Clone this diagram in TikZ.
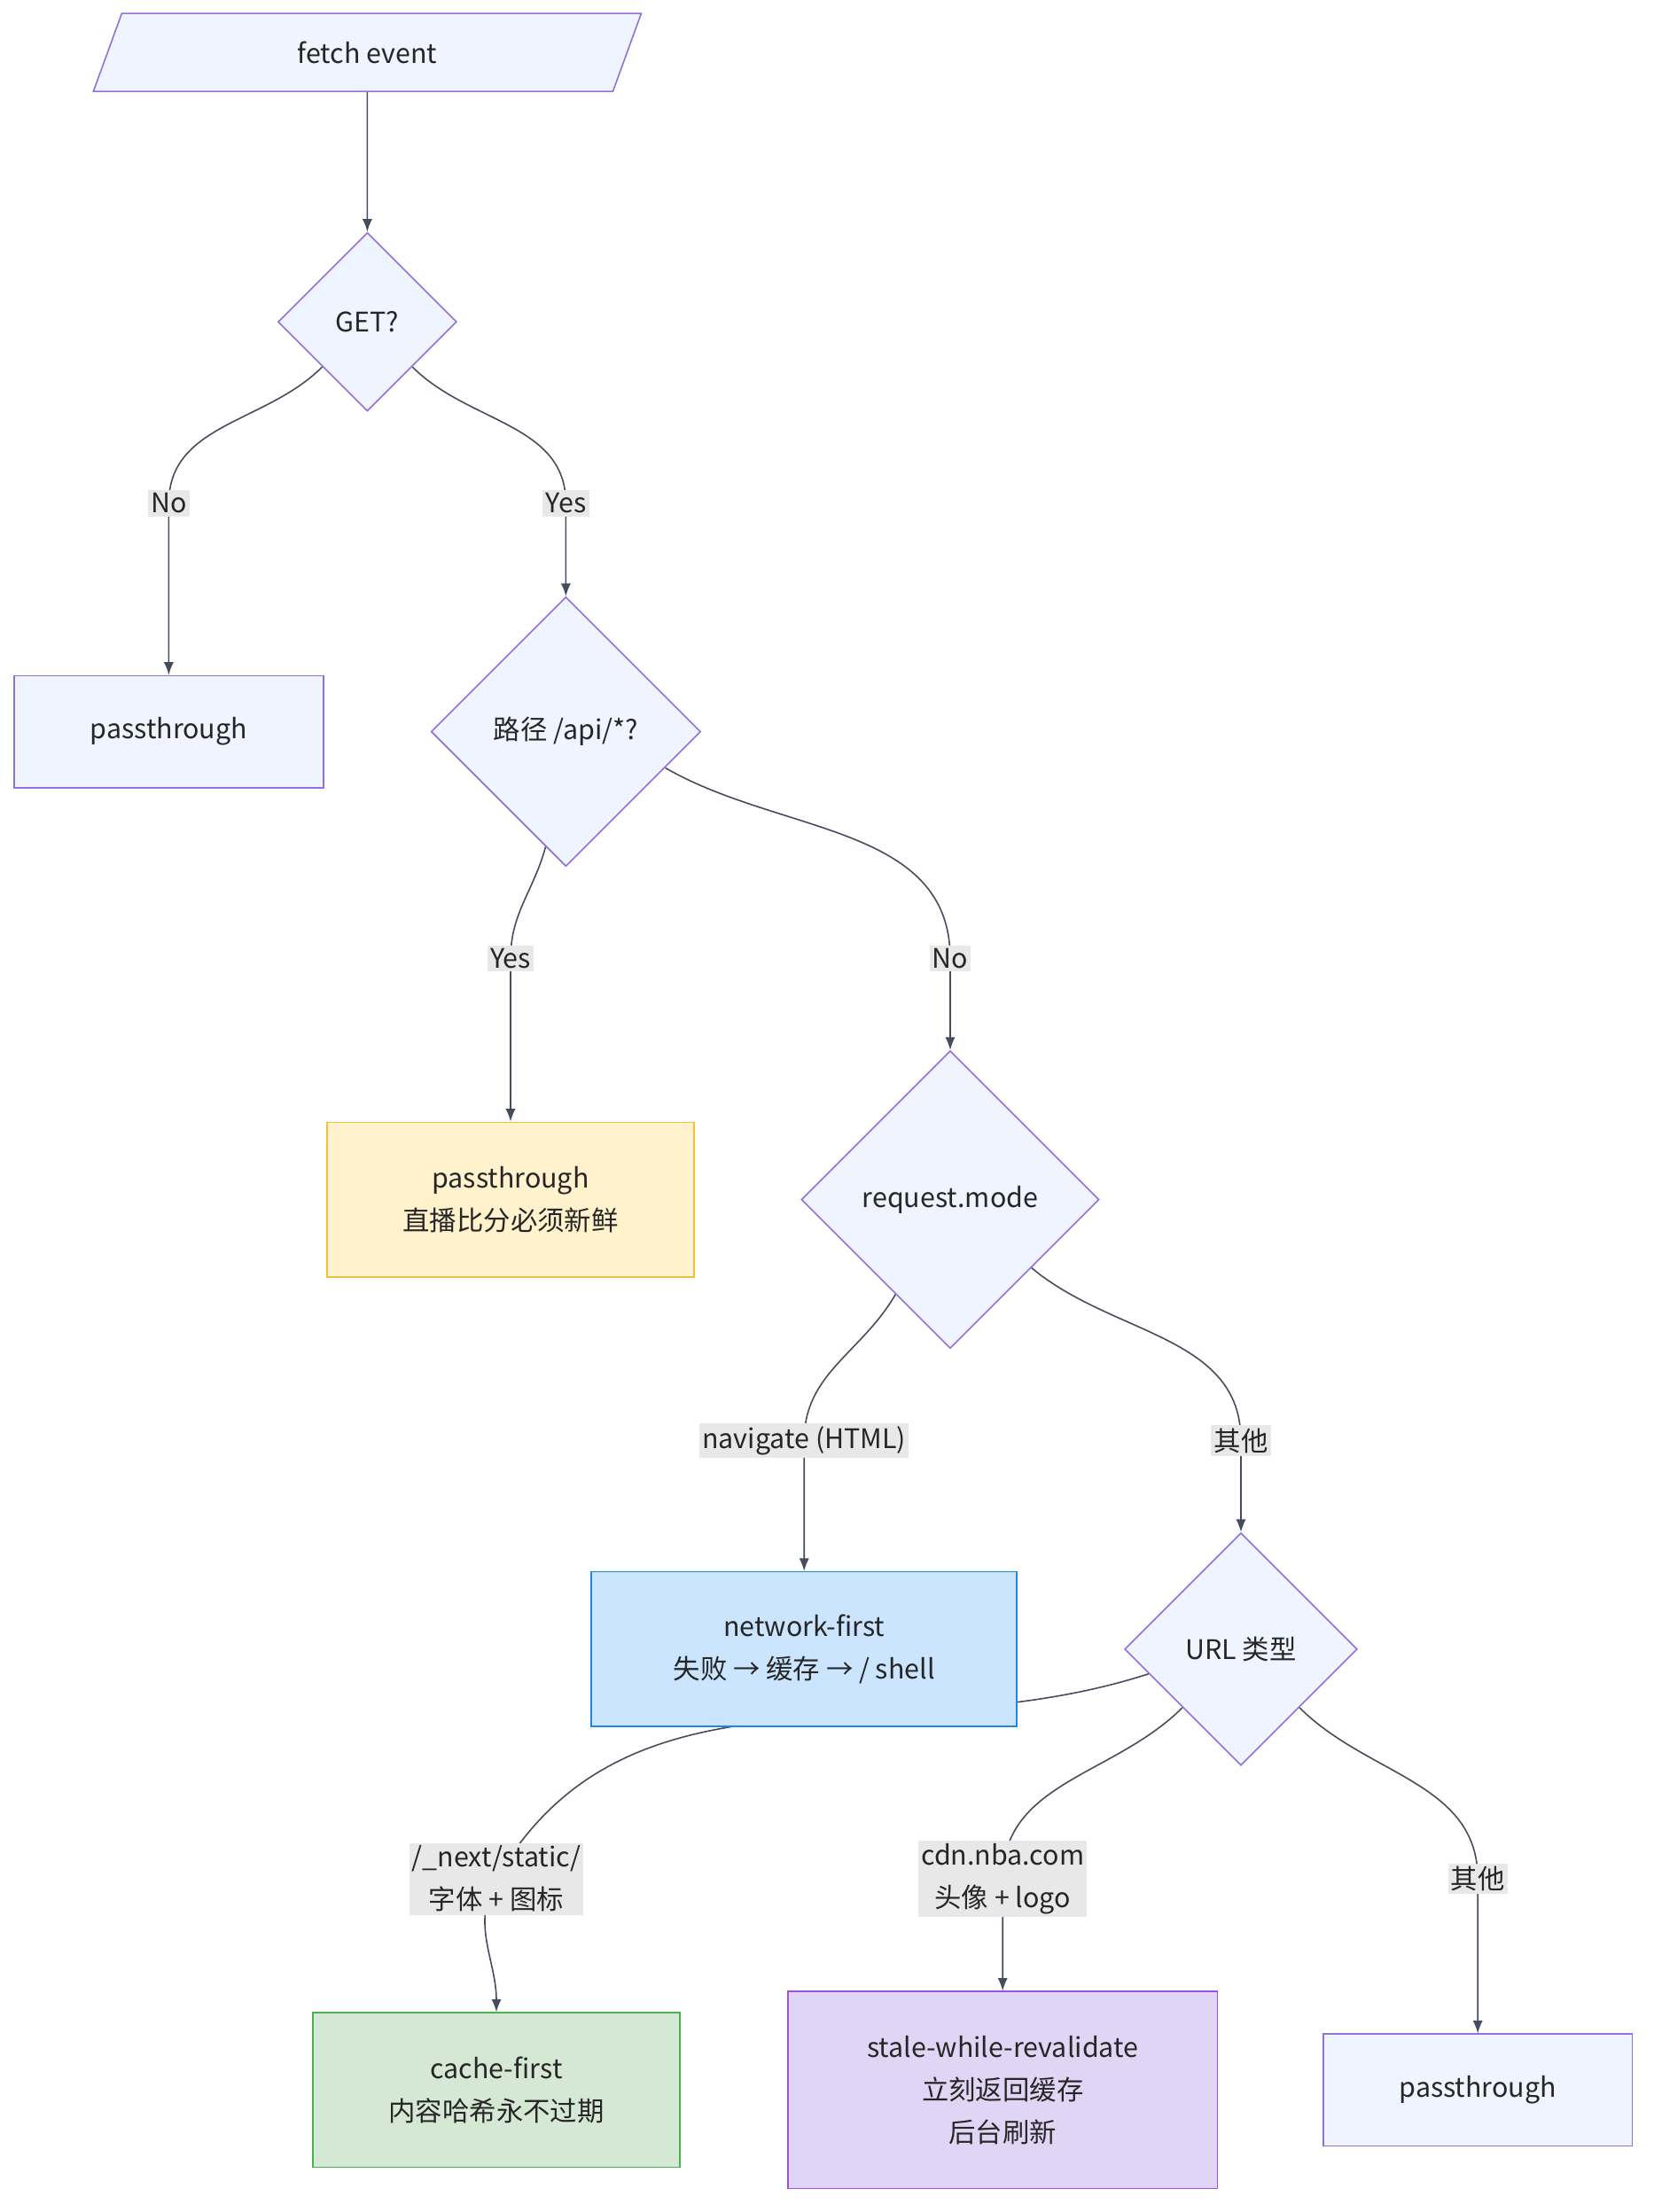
\documentclass[tikz,border=0pt]{standalone}
\usepackage{fontspec}
\setmainfont{Noto Sans CJK SC}
\usetikzlibrary{shapes.geometric,arrows.meta,positioning,backgrounds}
\definecolor{nodefill}{HTML}{EFF5FF}
\definecolor{nodeline}{HTML}{9370DB}
\definecolor{edgecol}{HTML}{444C5E}
\definecolor{lblfill}{HTML}{E8E8E8}
\definecolor{apifill}{HTML}{FFF2CC}
\definecolor{apiline}{HTML}{F0C040}
\definecolor{netfill}{HTML}{CCE5FF}
\definecolor{netline}{HTML}{1E88E5}
\definecolor{cachefill}{HTML}{D5E8D4}
\definecolor{cacheline}{HTML}{4CAF50}
\definecolor{swrfill}{HTML}{E1D5F5}
\definecolor{swrline}{HTML}{A050E0}
\tikzset{
  box/.style = {rectangle, draw=nodeline, fill=nodefill, line width=1pt, align=center, inner sep=0pt},
  dec/.style = {diamond, draw=nodeline, fill=nodefill, line width=1pt, align=center, inner sep=0pt, aspect=1},
  edge/.style = {draw=edgecol, line width=1pt, -{Latex[length=9pt,width=7pt]}},
  lbl/.style = {fill=lblfill, inner sep=2pt, align=center}
}
\begin{document}
\begin{tikzpicture}[x=1pt,y=-1pt,font=\fontsize{19}{30}\selectfont,text=black!85]
\useasboundingbox (0,0) rectangle (1166,1560);
% nodes
\node[trapezium, trapezium left angle=70, trapezium right angle=110, draw=nodeline, fill=nodefill, line width=1pt, minimum width=185pt, minimum height=55pt, inner sep=0pt] (fetch) at (259,37) {fetch event};
\node[dec, minimum size=126pt] (get) at (259,227) {GET?};
\node[box, minimum width=218pt, minimum height=79pt] (pass1) at (119,516) {passthrough};
\node[dec, minimum size=190pt] (api) at (399,516) {路径 /api/*?};
\node[box, draw=apiline, fill=apifill, minimum width=259pt, minimum height=109pt] (pass2) at (360,846) {passthrough\\直播比分必须新鲜};
\node[dec, minimum size=210pt] (mode) at (670,846) {request.mode};
\node[box, draw=netline, fill=netfill, minimum width=300pt, minimum height=109pt] (net) at (567,1163) {network-first\\失败 → 缓存 → / shell};
\node[dec, minimum size=164pt] (url) at (875,1163) {URL 类型};
\node[box, draw=cacheline, fill=cachefill, minimum width=259pt, minimum height=109pt] (cache) at (350,1474) {cache-first\\内容哈希永不过期};
\node[box, draw=swrline, fill=swrfill, minimum width=303pt, minimum height=139pt] (swr) at (707,1474) {stale-while-revalidate\\立刻返回缓存\\后台刷新};
\node[box, minimum width=218pt, minimum height=79pt] (pass3) at (1042,1474) {passthrough};
% labels
\node[lbl] (lno1) at (119,355) {No};
\node[lbl] (lyes1) at (399,355) {Yes};
\node[lbl] (lyes2) at (360,676) {Yes};
\node[lbl] (lno2) at (670,676) {No};
\node[lbl] (lnav) at (567,1016) {navigate (HTML)};
\node[lbl] (lother1) at (875,1016) {其他};
\node[lbl] (lstatic) at (350,1325) {/\_next/static/\\字体 + 图标};
\node[lbl] (lcdn) at (707,1325) {cdn.nba.com\\头像 + logo};
\node[lbl] (lother2) at (1042,1325) {其他};
% edges
\begin{scope}[on background layer]
\draw[edge] (fetch) -- (get);
\draw[edge] (get.south west) to[out=225,in=90] (lno1.center) to[out=-90,in=90] (pass1.north);
\draw[edge] (get.south east) to[out=-45,in=90] (lyes1.center) to[out=-90,in=90] (api.north);
\draw[edge] (api.-100) to[out=-105,in=90] (lyes2.center) to[out=-90,in=90] (pass2.north);
\draw[edge] (api.-20) to[out=-30,in=90] (lno2.center) to[out=-90,in=90] (mode.north);
\draw[edge] (mode.-120) to[out=-120,in=90] (lnav.center) to[out=-90,in=90] (net.north);
\draw[edge] (mode.-40) to[out=-40,in=90] (lother1.center) to[out=-90,in=90] (url.north);
\draw[edge] (url.-165) to[out=-162,in=60] (lstatic.center) to[out=-120,in=90] (cache.north);
\draw[edge] (url.-135) to[out=-135,in=90] (lcdn.center) to[out=-90,in=90] (swr.north);
\draw[edge] (url.-45) to[out=-45,in=90] (lother2.center) to[out=-90,in=90] (pass3.north);
\end{scope}
\end{tikzpicture}
\end{document}
